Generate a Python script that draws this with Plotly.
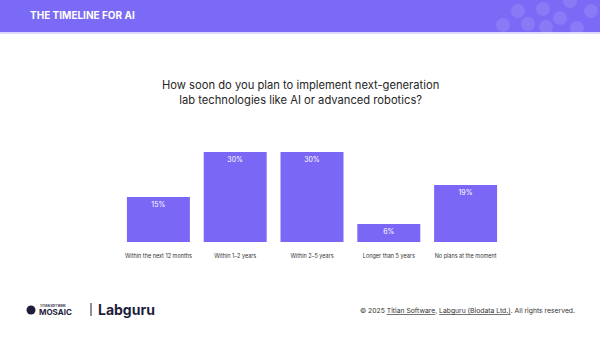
import plotly.graph_objects as go

categories = ["Within the next 12 months", "Within 1–2 years", "Within 2–5 years",
              "Longer than 5 years", "No plans at the moment"]
values = [15, 30, 30, 6, 19]
labels = ["15%", "30%", "30%", "6%", "19%"]

PURPLE = "#7b67f6"
HEADER = "#7b6af5"
FONT = "Inter, Lato, sans-serif"

fig = go.Figure(go.Bar(
    x=categories, y=values, text=labels,
    textposition="inside", insidetextanchor="end",
    textfont=dict(size=7, color="white", family=FONT),
    marker=dict(color=PURPLE, line=dict(width=0)),
    hoverinfo="skip",
))

W, H = 600, 337
ml, mr, mt, mb = 120, 96, 152, 95
pw, ph = W - ml - mr, H - mt - mb

def px2paper(x, y):
    return (x - ml) / pw, (H - mb - y) / ph

def rect_px(x0, y0, x1, y1, **kw):
    a = px2paper(x0, y0); b = px2paper(x1, y1)
    d = dict(type="rect", xref="paper", yref="paper", x0=a[0], y0=a[1], x1=b[0], y1=b[1])
    d.update(kw)
    return d

def circ_px(cx, cy, r, **kw):
    a = px2paper(cx - r, cy - r); b = px2paper(cx + r, cy + r)
    d = dict(type="circle", xref="paper", yref="paper", x0=a[0], y0=a[1], x1=b[0], y1=b[1])
    d.update(kw)
    return d

shapes = [
    rect_px(0, 0, 600, 32, fillcolor=HEADER, line=dict(width=0), layer="below"),
    rect_px(0, 32, 600, 34, fillcolor="#dcd7fd", line=dict(width=0), layer="below"),
]
for cx, cy in [(518, 11), (543, 9), (570, 1), (591, 11), (503, 25), (528, 24),
               (546, 27), (560, 18), (577, 28)]:
    shapes.append(circ_px(cx, cy, 7, fillcolor="rgba(255,255,255,0.11)", line=dict(width=0),
                          layer="below"))
# logo icon and separator
shapes.append(circ_px(31, 310, 4.5, fillcolor="#1e1e3c", line=dict(width=0)))
shapes.append(rect_px(90.5, 303, 91.5, 316, fillcolor="#1e1e3c", line=dict(width=0)))

def ann_px(x, y, text, size, color, xanchor="left", **kw):
    px, py = px2paper(x, y)
    d = dict(x=px, y=py, xref="paper", yref="paper", text=text, showarrow=False,
             xanchor=xanchor, yanchor="middle", font=dict(size=size, color=color, family=FONT))
    d.update(kw)
    return d

annotations = [
    ann_px(28, 15, "<b>THE TIMELINE FOR AI</b>", 10, "white"),
    ann_px(300, 92, "How soon do you plan to implement next-generation<br>lab technologies like AI or advanced robotics?",
           11.2, "#262626", xanchor="center", align="center"),
    ann_px(577, 310, "© 2025 <span style='text-decoration:underline'>Titian Software</span>, "
           "<span style='text-decoration:underline'>Labguru (Biodata Ltd.)</span>. All rights reserved.",
           6.8, "#333333", xanchor="right"),
    ann_px(38, 306, "<b>TITIAN SOFTWARE</b>", 2.8, "#1e1e3c"),
    ann_px(37, 311.5, "<b>MOSAIC</b>", 8, "#1e1e3c"),
    ann_px(96, 309, "<b>Labguru</b>", 14, "#1e1e3c"),
]

fig.update_layout(
    width=W, height=H,
    margin=dict(l=ml, r=mr, t=mt, b=mb, pad=0),
    paper_bgcolor="white", plot_bgcolor="white",
    bargap=0.18,
    showlegend=False,
    shapes=shapes, annotations=annotations,
    xaxis=dict(showgrid=False, zeroline=False, showline=False, ticks="",
               ticklabelstandoff=9,
               tickfont=dict(size=5.5, color="#333333", family=FONT), fixedrange=True),
    yaxis=dict(range=[0, 30], visible=False, fixedrange=True),
    font=dict(family=FONT),
)

fig.write_html("out.html", config={"displayModeBar": False})
